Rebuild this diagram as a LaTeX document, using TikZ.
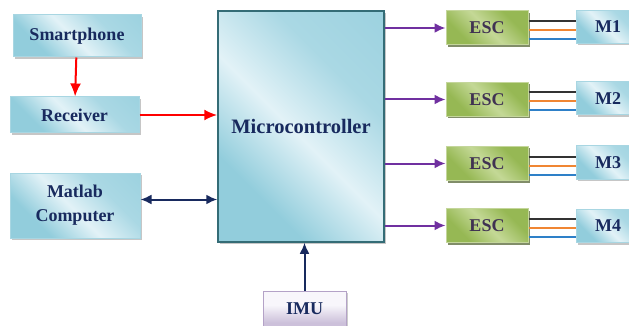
\documentclass[tikz,border=0pt]{standalone}
\usepackage{fontspec}
\setmainfont{Liberation Serif}
\newfontfamily\boxfont{Liberation Serif}
\usetikzlibrary{shapes,arrows.meta,shadows}
\definecolor{navy}{RGB}{24,42,94}
\definecolor{boxdark}{RGB}{146,205,220}
\definecolor{boxlight}{RGB}{226,242,247}
\definecolor{boxline}{RGB}{168,214,226}
\definecolor{microline}{RGB}{52,108,118}
\definecolor{escdark}{RGB}{150,184,84}
\definecolor{esclight}{RGB}{196,216,150}
\definecolor{escline}{RGB}{196,214,155}
\definecolor{esctext}{RGB}{64,50,82}
\definecolor{imudark}{RGB}{204,192,218}
\definecolor{imulight}{RGB}{248,246,251}
\definecolor{imuline}{RGB}{180,162,199}
\definecolor{pwm}{RGB}{112,48,160}
\definecolor{wireorange}{RGB}{240,134,50}
\definecolor{wireblue}{RGB}{46,128,200}
\pgfdeclarehorizontalshading{glassblue}{100bp}{color(0bp)=(boxdark); color(30bp)=(boxdark); color(48bp)=(boxlight); color(66bp)=(boxdark!70!boxlight); color(100bp)=(boxdark)}
\pgfdeclarehorizontalshading{glassgreen}{100bp}{color(0bp)=(escdark); color(30bp)=(escdark); color(50bp)=(esclight); color(70bp)=(escdark); color(100bp)=(escdark)}
\pgfdeclareverticalshading{glasspurple}{100bp}{color(0bp)=(imudark); color(30bp)=(imudark); color(55bp)=(imulight); color(70bp)=(imulight); color(100bp)=(imulight)}
\tikzset{
    block/.style={rectangle, draw=boxline, line width=1pt, shading=glassblue,
        shading angle=45, drop shadow={shadow xshift=2pt, shadow yshift=-2pt, opacity=0.45, fill=gray},
        text=navy, font=\boxfont\bfseries\fontsize{18}{24}\selectfont, align=center},
    bigblock/.style={block, draw=microline, line width=1.5pt,
        font=\boxfont\bfseries\fontsize{20.5}{24}\selectfont},
    escblock/.style={rectangle, draw=escline, line width=1pt, shading=glassgreen,
        shading angle=45, drop shadow={shadow xshift=2pt, shadow yshift=-2pt, opacity=0.7, fill=escdark!50!black},
        text=esctext, font=\boxfont\bfseries\fontsize{18}{24}\selectfont,
        minimum width=82pt, minimum height=34pt},
    motor/.style={block, minimum width=64pt, minimum height=33pt},
    sensor/.style={rectangle, draw=imuline, line width=1pt, shading=glasspurple,
        drop shadow={shadow xshift=2pt, shadow yshift=-2pt, opacity=0.4, fill=gray},
        text=navy, font=\boxfont\bfseries\fontsize{18}{24}\selectfont,
        minimum width=83pt, minimum height=35pt},
    line/.style={draw, line width=2pt, -{Latex[length=11pt,width=10pt]}},
    wire/.style={draw, line width=2pt}
}

\begin{document}
\begin{tikzpicture}[x=1pt, y=-1pt]
    \useasboundingbox (0,0) rectangle (629,326);
    % Place nodes
    \node [block, minimum width=128pt, minimum height=42pt] (smart) at (77,36) {Smartphone};
    \node [block, minimum width=129pt, minimum height=36pt] (recv) at (74.5,115) {Receiver};
    \node [block, minimum width=130pt, minimum height=65pt] (matlab) at (75,205.5) {Matlab\\Computer};
    \node [bigblock, minimum width=166pt, minimum height=231pt] (micro) at (301,126.5) {Microcontroller};
    \node [sensor] (imu) at (304.5,308.5) {IMU};
    \node [escblock] (esc1) at (487,28) {ESC};
    \node [escblock] (esc2) at (487,99.5) {ESC};
    \node [escblock] (esc3) at (487,163.5) {ESC};
    \node [escblock] (esc4) at (487,225.5) {ESC};
    \node [motor] (m1) at (608,27) {M1};
    \node [motor] (m2) at (608,98.5) {M2};
    \node [motor] (m3) at (608,162.5) {M3};
    \node [motor] (m4) at (608,226) {M4};
    % Draw edges
    \path [line, red, -{Latex[length=13pt,width=11pt]}] (smart) -- (recv);
    \path [line, red, -{Latex[length=13pt,width=11pt]}] (recv.east) -- (recv.east -| micro.west);
    \path [line, navy, {Latex[length=11pt,width=10pt]}-{Latex[length=11pt,width=10pt]}] ([yshift=6pt]matlab.east) -- ([yshift=6pt]matlab.east -| micro.west);
    \path [line, navy] (imu.north) -- (imu.north |- micro.south);
    \foreach \i in {1,...,4} {
        \path [line, pwm] (esc\i.west -| micro.east) -- (esc\i.west);
        \path [wire, black!80] ([yshift=7pt]esc\i.east) -- ([yshift=7pt]esc\i.east -| m\i.west);
        \path [wire, wireorange] ([yshift=-2pt]esc\i.east) -- ([yshift=-2pt]esc\i.east -| m\i.west);
        \path [wire, wireblue] ([yshift=-11pt]esc\i.east) -- ([yshift=-11pt]esc\i.east -| m\i.west);
    }
\end{tikzpicture}
\end{document}
